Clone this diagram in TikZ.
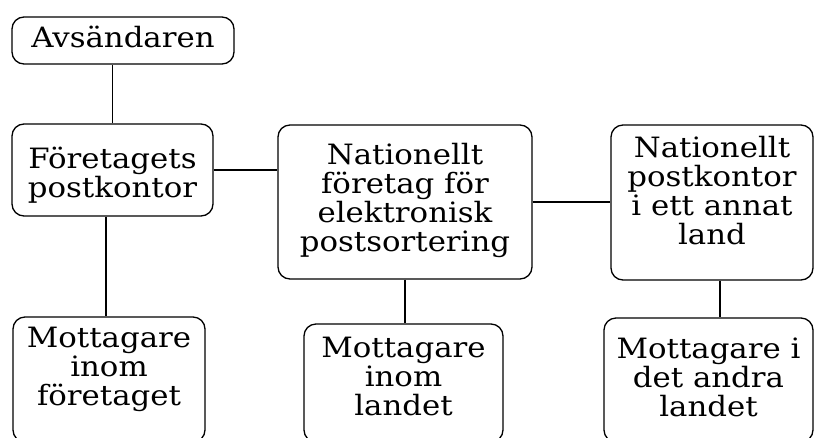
\documentclass[tikz,border=0pt]{standalone}
\usepackage{fontspec}
\setmainfont{DejaVu Serif}[FakeStretch=1.1]
\begin{document}
\begin{tikzpicture}[x=1pt,y=-1pt,
  box/.style={draw, line width=1.3pt, rounded corners=12pt, inner sep=0pt},
  txt/.style={align=center, inner sep=0pt, font=\fontsize{28}{29}\selectfont},
  link/.style={line width=1.2pt}]
  \useasboundingbox (0,0) rectangle (814,437);
  \clip (0,0) rectangle (814,437);
  \fill[white] (0,0) rectangle (814,437);

  % boxes
  \node[box, minimum width=222pt, minimum height=47pt]  (avs) at (123,40.5)   {};
  \node[box, minimum width=201pt, minimum height=92pt]  (fpk) at (112.5,170)  {};
  \node[box, minimum width=254pt, minimum height=154pt] (nfe) at (405,202)    {};
  \node[box, minimum width=202pt, minimum height=155pt] (npk) at (712,202.5)  {};
  \node[box, minimum width=192pt, minimum height=125pt] (mf)  at (109,379.5)  {};
  \node[box, minimum width=199pt, minimum height=118pt] (ml)  at (403.5,383)  {};
  \node[box, minimum width=209pt, minimum height=124pt] (ma)  at (708.5,380)  {};

  % labels
  \node[txt, anchor=base] (avs-t) at (123,47) {Avsändaren};
  \node[txt] (fpk-t) at (112.5,175) {Företagets\\postkontor};
  \node[txt] (nfe-t) at (405,200) {Nationellt\\företag för\\elektronisk\\postsortering};
  \node[txt] (npk-t) at (712,191) {Nationellt\\postkontor\\i ett annat\\land};
  \node[txt] (mf-t)  at (109,369) {Mottagare\\inom\\företaget};
  \node[txt] (ml-t)  at (403.5,376) {Mottagare\\inom\\landet};
  \node[txt] (ma-t)  at (708.5,377) {Mottagare i\\det andra\\landet};

  % connectors
  \draw[link] (fpk.north) -- (fpk.north |- avs.south);
  \draw[link] ([xshift=-6.5pt]fpk.south) -- ([xshift=-6.5pt]fpk.south |- mf.north);
  \draw[link] (fpk.east) -- (fpk.east -| nfe.west);
  \draw[link] (nfe.east) -- (nfe.east -| npk.west);
  \draw[link] (nfe.south) -- (nfe.south |- ml.north);
  \draw[link] ([xshift=8pt]npk.south) -- ([xshift=8pt]npk.south |- ma.north);
\end{tikzpicture}
\end{document}
